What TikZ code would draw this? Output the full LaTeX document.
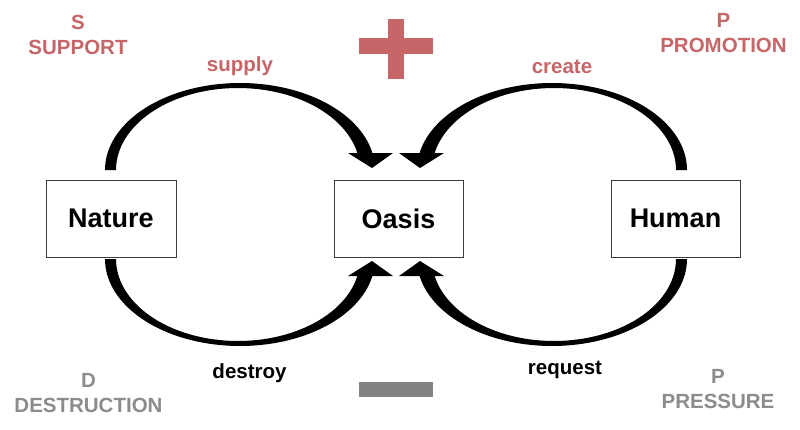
\documentclass[tikz,border=0pt]{standalone}
\usepackage{fontspec}
\setmainfont{Liberation Sans}
\definecolor{plusred}{RGB}{198,102,104}
\definecolor{minusgray}{RGB}{130,130,130}
\definecolor{labgray}{RGB}{140,140,140}
\definecolor{boxline}{RGB}{60,60,60}
\newcommand\oasisarrow{%
  \fill[black] (105,170) -- plot[domain=180:11.3,samples=80] ({240+135*cos(\x)},{170-87*sin(\x)})
    -- plot[domain=12:180,samples=80] ({238+122*cos(\x)},{170-82*sin(\x)}) -- cycle;
  \fill[black] (348,153) -- (393,153) -- (372,168) -- cycle;}
\begin{document}
\begin{tikzpicture}[x=1pt,y=-1pt,
  box/.style={draw=boxline,line width=1pt,fill=white,minimum width=130pt,minimum height=77pt,inner sep=0pt,font=\fontsize{27}{30}\selectfont\bfseries},
  lab/.style={inner sep=0pt,anchor=base,font=\fontsize{20.5}{25}\selectfont\bfseries,align=center},
  redlab/.style={lab,text=plusred},
  graylab/.style={lab,text=labgray},
  blacklab/.style={lab,text=black}]
\useasboundingbox (0,0) rectangle (800,429);
\fill[white] (0,0) rectangle (800,429);
% arrows
\oasisarrow
\begin{scope}[yshift=-429pt,yscale=-1]\oasisarrow\end{scope}
\begin{scope}[xshift=792pt,xscale=-1]\oasisarrow\end{scope}
\begin{scope}[xshift=792pt,yshift=-429pt,xscale=-1,yscale=-1]\oasisarrow\end{scope}
% boxes
\node[box] (nature) at (111,218.5) {Nature};
\node[box,minimum width=129pt] (oasis) at (398.5,218.5) {Oasis};
\node[box,minimum width=129pt] (human) at (675.5,218.5) {Human};
% plus and minus
\fill[plusred] (359,38) rectangle (433,54);
\fill[plusred] (388,19) rectangle (404,79);
\fill[minusgray] (359,382) rectangle (433,397);
% labels
\node[redlab] (support) at (78,54) {S\\SUPPORT};
\node[redlab] (promotion) at (723.5,52) {P\\PROMOTION};
\node[graylab] (destruction) at (88.5,412) {D\\DESTRUCTION};
\node[graylab] (pressure) at (718,408) {P\\PRESSURE};
\node[redlab] (supply) at (240,71) {supply};
\node[redlab] (create) at (562,73) {create};
\node[blacklab] (destroy) at (249.5,378) {destroy};
\node[blacklab] (request) at (565,374) {request};
\end{tikzpicture}
\end{document}
